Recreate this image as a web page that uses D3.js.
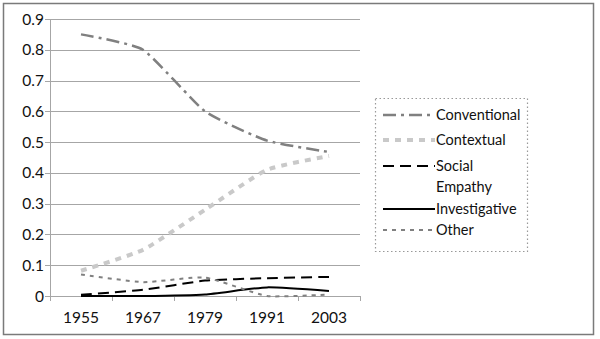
<!DOCTYPE html>
<html><head><meta charset="utf-8">
<script src="https://cdn.jsdelivr.net/npm/d3@7"></script>
<style>body{margin:0;background:#fff}svg{display:block}text{font-family:Lato,"Liberation Sans",sans-serif;fill:#111}</style>
</head><body><div id="c"></div>
<script>
const years = ["1955","1967","1979","1991","2003"];
const yTicks = [0,0.1,0.2,0.3,0.4,0.5,0.6,0.7,0.8,0.9];
const conventional = [0.85,0.80,0.60,0.505,0.468];
const contextual = [0.082,0.15,0.28,0.41,0.455];
const socialEmpathy = [0.004,0.02,0.05,0.058,0.062];
const investigative = [0.0,0.0,0.005,0.028,0.016];
const other = [0.07,0.045,0.06,0.0,0.005];
const seriesNames = ["Conventional","Contextual","Social Empathy","Investigative","Other"];

const series = [
  {name:seriesNames[0], values:conventional, color:"#808080", width:2.5, dash:"13,5,3,5"},
  {name:seriesNames[1], values:contextual, color:"#c9c9c9", width:4, dash:"6,6"},
  {name:seriesNames[2], values:socialEmpathy, color:"#000", width:2, dash:"11,6"},
  {name:seriesNames[3], values:investigative, color:"#000", width:2, dash:null},
  {name:seriesNames[4], values:other, color:"#808080", width:2, dash:"4,5"}
];

const W=600,H=339;
const svg=d3.select("#c").append("svg").attr("width",W).attr("height",H);
svg.append("rect").attr("x",3.5).attr("y",3.5).attr("width",590).attr("height",331)
  .attr("fill","none").attr("stroke","#7a7a7a").attr("stroke-width",1.5);

const x=d3.scaleBand().domain(years).range([50,360]);
const y=d3.scaleLinear().domain([0,0.9]).range([296,19]);

svg.append("g").selectAll("line").data(yTicks).join("line")
  .attr("x1",45).attr("x2",360).attr("y1",d=>Math.round(y(d))+0.5).attr("y2",d=>Math.round(y(d))+0.5)
  .attr("stroke","#a6a6a6").attr("stroke-width",1);
svg.append("line").attr("x1",50.5).attr("x2",50.5).attr("y1",y(0.9)).attr("y2",y(0)+0.5).attr("stroke","#a6a6a6");
const bounds=years.map(d=>x(d)).concat([360]);
svg.append("g").selectAll("line").data(bounds).join("line")
  .attr("x1",d=>Math.round(d)+0.5).attr("x2",d=>Math.round(d)+0.5).attr("y1",y(0)).attr("y2",y(0)+5)
  .attr("stroke","#a6a6a6");
svg.append("g").selectAll("text").data(yTicks).join("text")
  .attr("x",44).attr("y",d=>y(d)).attr("dy","0.36em").attr("text-anchor","end")
  .attr("font-size",15.5).text(d=>d===0?"0":d3.format(".1f")(d));
svg.append("g").selectAll("text").data(years).join("text")
  .attr("x",d=>x(d)+x.bandwidth()/2).attr("y",323).attr("text-anchor","middle")
  .attr("font-size",15.5).text(d=>d);

const line=d3.line().x((d,i)=>x(years[i])+x.bandwidth()/2).y(d=>y(d)).curve(d3.curveCardinal.tension(0.5));
svg.append("g").selectAll("path").data(series).join("path")
  .attr("d",d=>line(d.values)).attr("fill","none")
  .attr("stroke",d=>d.color).attr("stroke-width",d=>d.width)
  .attr("stroke-dasharray",d=>d.dash);

svg.append("rect").attr("x",375.5).attr("y",98.5).attr("width",152).attr("height",153)
  .attr("fill","none").attr("stroke","#999").attr("stroke-width",1.2).attr("stroke-dasharray","1.5,2.5");
const legY=[115,140,166,209,230];
const lg=svg.append("g").selectAll("g").data(series).join("g");
lg.append("line").attr("x1",383).attr("x2",435).attr("y1",(d,i)=>legY[i]).attr("y2",(d,i)=>legY[i])
  .attr("stroke",d=>d.color).attr("stroke-width",d=>d.width).attr("stroke-dasharray",d=>d.dash);
lg.append("text").attr("x",436).attr("y",(d,i)=>legY[i]).attr("font-size",14.5)
  .each(function(d){
    const t=d3.select(this);
    const parts=d.name==="Social Empathy"?["Social","Empathy"]:[d.name];
    parts.forEach((p,j)=>t.append("tspan").attr("x",436).attr("dy",j===0?"0.36em":"21").text(p));
  });
</script></body></html>
